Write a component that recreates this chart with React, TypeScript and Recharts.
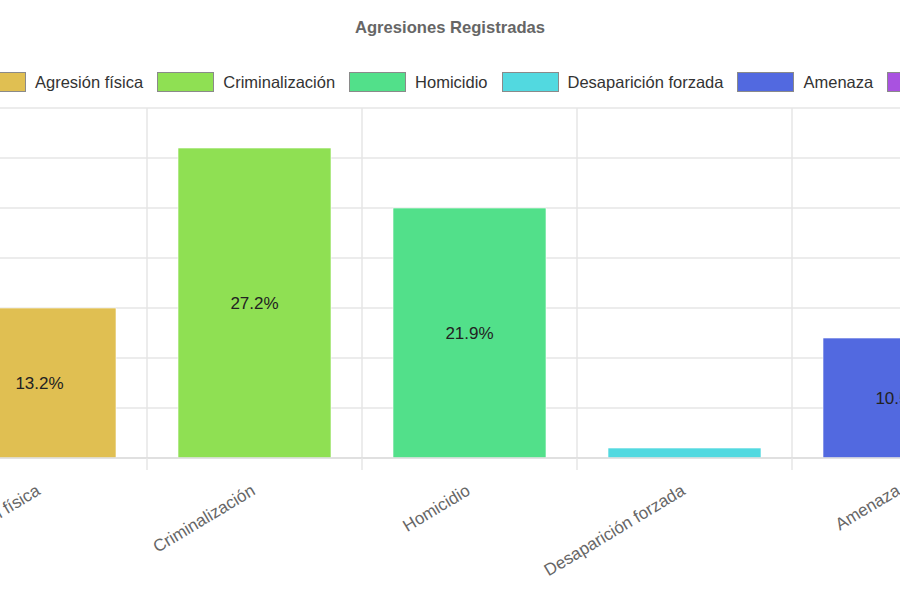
import React from 'react'
import { BarChart, Bar, XAxis, YAxis, CartesianGrid, Cell, LabelList } from 'recharts'

const categories = ['Agresión física', 'Criminalización', 'Homicidio', 'Desaparición forzada', 'Amenaza', 'Otras agresiones']
const counts = [30, 62, 50, 2, 24, 60]
const colors = ['#E0BF52', '#8FE053', '#52E08A', '#52D9E0', '#5269E0', '#A952E0']
const yTicks = [0, 10, 20, 30, 40, 50, 60, 70]

const FONT = '"Liberation Sans", Arial, Helvetica, sans-serif'

// the visible 900x600 frame is a crop of a wider chart
const MARGIN_LEFT = 10
const Y_AXIS_W = 40
const PLOT_W = 1290
const BAND = PLOT_W / categories.length
const CHART_W = MARGIN_LEFT + Y_AXIS_W + PLOT_W + 10
const CHART_LEFT = -118

const total = counts.reduce((a, b) => a + b, 0)
const data = categories.map((name, i) => ({
  name,
  count: counts[i],
  pct: (counts[i] / total) * 100,
  color: colors[i],
}))

const XTick = (props: any) => {
  const { x, y, payload, index } = props
  const lx = x - 1
  const ly = y + 31
  return (
    <g>
      <line x1={x - BAND / 2} x2={x - BAND / 2} y1={y} y2={y + 12} stroke="#e6e6e6" strokeWidth={1.5} />
      {index === categories.length - 1 && (
        <line x1={x + BAND / 2} x2={x + BAND / 2} y1={y} y2={y + 12} stroke="#e6e6e6" strokeWidth={1.5} />
      )}
      <text
        x={lx}
        y={ly}
        textAnchor="end"
        dominantBaseline="central"
        transform={`rotate(-31, ${lx}, ${ly})`}
        fill="#666"
        fontSize={17}
        fontFamily={FONT}
      >
        {payload.value}
      </text>
    </g>
  )
}

const PctLabel = (props: any) => {
  const { x, y, width, height, value } = props
  if (value < 2) return null
  return (
    <text
      x={x + width / 2}
      y={y + height / 2}
      textAnchor="middle"
      dominantBaseline="central"
      fill="#222"
      fontSize={17}
      fontFamily={FONT}
    >
      {value.toFixed(1)}%
    </text>
  )
}

export default function App() {
  return (
    <div
      style={{
        position: 'absolute',
        left: 0,
        top: 0,
        width: 900,
        height: 600,
        overflow: 'hidden',
        background: '#fff',
        fontFamily: FONT,
      }}
    >
      <div
        style={{
          position: 'absolute',
          top: 19,
          left: 0,
          width: 900,
          textAlign: 'center',
          fontWeight: 'bold',
          fontSize: 16.6,
          color: '#666',
          lineHeight: '18px',
        }}
      >
        Agresiones Registradas
      </div>

      <div
        style={{
          position: 'absolute',
          top: 72,
          left: -31,
          display: 'flex',
          alignItems: 'center',
          whiteSpace: 'nowrap',
          height: 20,
        }}
      >
        {categories.map((c, i) => (
          <React.Fragment key={c}>
            <span
              style={{
                display: 'inline-block',
                width: 57,
                height: 20,
                boxSizing: 'border-box',
                border: '1.5px solid #8a8a8a',
                background: colors[i],
              }}
            />
            <span style={{ marginLeft: 9, marginRight: 14, fontSize: 16.5, color: '#333' }}>{c}</span>
          </React.Fragment>
        ))}
      </div>

      <div style={{ position: 'absolute', left: CHART_LEFT, top: 0 }}>
        <BarChart
          width={CHART_W}
          height={600}
          data={data}
          margin={{ top: 108, right: 10, bottom: 10, left: MARGIN_LEFT }}
        >
          <CartesianGrid
            stroke="#e6e6e6"
            strokeWidth={1.5}
            verticalCoordinatesGenerator={({ offset }: any) =>
              categories.map((_, i) => offset.left + i * BAND).concat(offset.left + PLOT_W)
            }
          />
          <XAxis
            dataKey="name"
            interval={0}
            height={132}
            tickSize={0}
            tickMargin={0}
            tickLine={false}
            axisLine={{ stroke: '#dcdcdc', strokeWidth: 1.5 }}
            tick={<XTick />}
          />
          <YAxis
            width={Y_AXIS_W}
            domain={[0, 70]}
            ticks={yTicks}
            axisLine={false}
            tickLine={false}
            tick={{ fill: '#666', fontSize: 14 }}
          />
          <Bar dataKey="count" barSize={153} isAnimationActive={false} stroke="rgba(255,255,255,0.6)" strokeWidth={1}>
            {data.map((d) => (
              <Cell key={d.name} fill={d.color} />
            ))}
            <LabelList dataKey="pct" content={<PctLabel />} />
          </Bar>
        </BarChart>
      </div>
    </div>
  )
}
